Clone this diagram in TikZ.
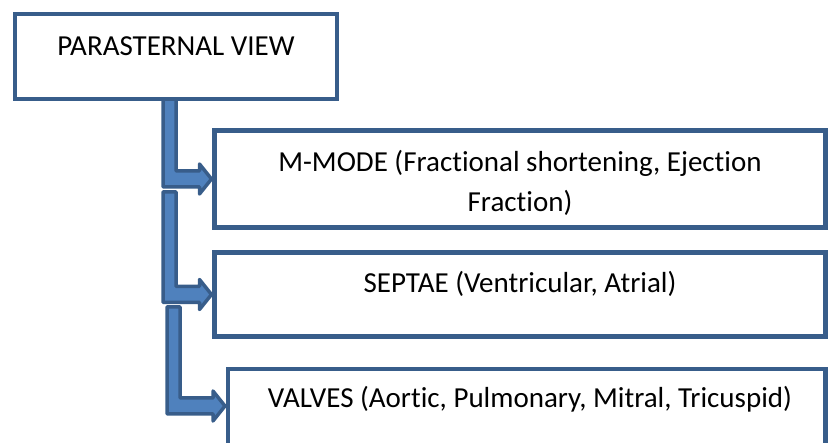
\documentclass[tikz,border=0pt]{standalone}
\usepackage{fontspec}
\setmainfont{Carlito}[Ligatures=NoCommon]
\usetikzlibrary{calc}

\definecolor{frameblue}{RGB}{56,93,138}
\definecolor{arrowblue}{RGB}{79,129,189}

\tikzset{
  panel/.style={rectangle, anchor=north west, inner sep=0pt, outer sep=0pt},
  frame/.style={draw=frameblue, line width=4.5pt, fill=white},
  label text/.style={anchor=base, inner sep=0pt, font=\fontsize{29}{40}\selectfont},
  bent arrow/.style={draw=frameblue, fill=arrowblue, line width=3.5pt, line join=round},
}

% L-shaped block arrow: shaft going down from #1 (its top-left corner), then right to the tip #2
\newcommand\bentarrow[2]{%
  \path[bent arrow] let \p1=(#1), \p2=(#2) in
    (\x1,\y1) -- (\x1+13pt,\y1) -- (\x1+13pt,\y2+8pt) -- (\x2-15pt,\y2+8pt)
    -- (\x2-15pt,\y2+15pt) -- (\x2-3pt,\y2) -- (\x2-15pt,\y2-15pt)
    -- (\x2-15pt,\y2-8pt) -- (\x1,\y2-8pt) -- cycle;}

\begin{document}
\begin{tikzpicture}[x=1pt,y=-1pt]
\useasboundingbox (0,0) rectangle (828,443);
\clip (0,0) rectangle (828,443);

% top-left corners of the connector shafts
\coordinate (s1) at (163,99);
\coordinate (s2) at (163,192);
\coordinate (s3) at (167,307);

% box outlines (empty nodes give the anchors)
\node[panel, minimum width=322pt, minimum height=85pt] (pv) at (15,14) {};
\node[panel, minimum width=611pt, minimum height=97pt] (mm) at (214.5,130.5) {};
\node[panel, minimum width=611pt, minimum height=84pt] (se) at (214.5,252.5) {};
\node[panel, minimum width=597.5pt, minimum height=100pt] (vv) at (228,369) {};
\coordinate (t3) at ($(vv.north west)+(0,37)$);

% connectors
\bentarrow{s1}{mm.west}
\bentarrow{s2}{se.west}
\bentarrow{s3}{t3}

% visible frames, on top of the connector ends
\draw[frame] (pv.north west) rectangle (pv.south east);
\draw[frame] (mm.north west) rectangle (mm.south east);
\draw[frame] (se.north west) rectangle (se.south east);
\draw[frame] (vv.north west) rectangle (vv.south east);

% texts
\node[label text] (pvtext) at (176,56) {PARASTERNAL VIEW};
\node[label text] (mmtext1) at (520,172) {M-MODE (Fractional shortening, Ejection};
\node[label text] (mmtext2) at (520,212) {Fraction)};
\node[label text] (setext) at (520,293) {SEPTAE (Ventricular, Atrial)};
\node[label text] (vvtext) at (530,408) {VALVES (Aortic, Pulmonary, Mitral, Tricuspid)};
\end{tikzpicture}
\end{document}
